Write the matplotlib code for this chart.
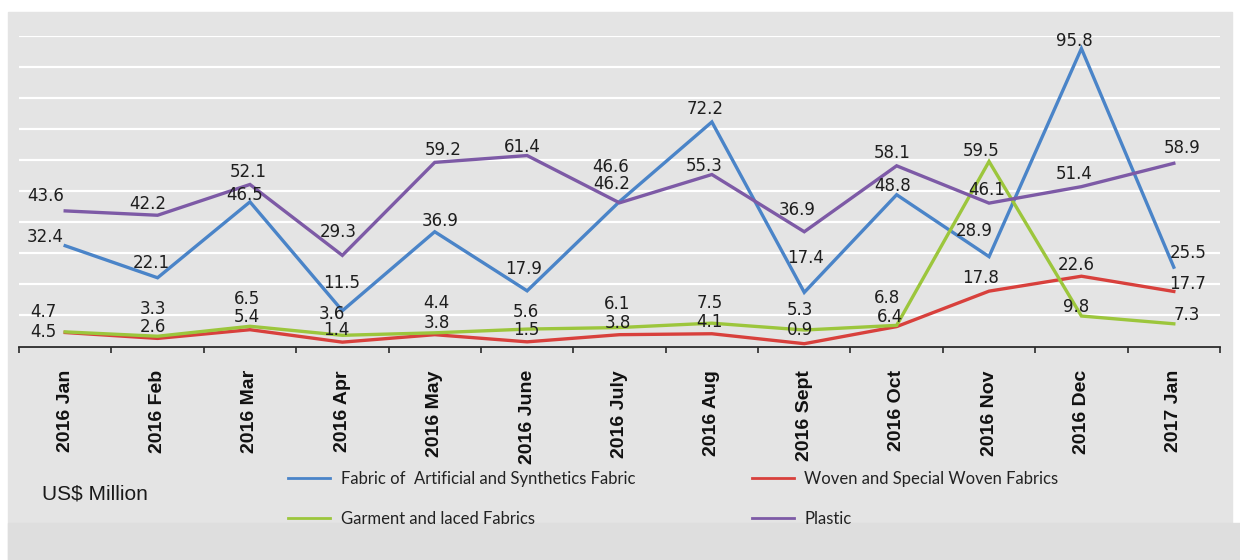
import matplotlib.pyplot as plt
from matplotlib.patches import Rectangle

# monthly imports, US$ million
months = ["2016 Jan", "2016 Feb", "2016 Mar", "2016 Apr", "2016 May", "2016 June",
          "2016 July", "2016 Aug", "2016 Sept", "2016 Oct", "2016 Nov", "2016 Dec", "2017 Jan"]
artificial = [32.4, 22.1, 46.5, 11.5, 36.9, 17.9, 46.6, 72.2, 17.4, 48.8, 28.9, 95.8, 25.5]
woven = [4.5, 2.6, 5.4, 1.4, 3.8, 1.5, 3.8, 4.1, 0.9, 6.4, 17.8, 22.6, 17.7]
garment = [4.7, 3.3, 6.5, 3.6, 4.4, 5.6, 6.1, 7.5, 5.3, 6.8, 59.5, 9.8, 7.3]
plastic = [43.6, 42.2, 52.1, 29.3, 59.2, 61.4, 46.2, 55.3, 36.9, 58.1, 46.1, 51.4, 58.9]

names = ["Fabric of  Artificial and Synthetics Fabric", "Woven and Special Woven Fabrics",
         "Garment and laced Fabrics", "Plastic"]
colors = ["#4a84c8", "#d8403c", "#9cc63c", "#7d5aa6"]

# where each value label sits relative to its point (pixels, x right / y up)
lab_art = [(-20, 9), (-6, 15), (-5, 7), (-1, 28), (5, 11), (-4, 22), (-9, 35),
           (-7, 13), (1, 34), (-4, 9), (-15, 26), (-7, 8), (14, 14)]
lab_wov = [(-22, 1), (-5, 11), (-3, 13), (-6, 12), (2, 12), (-1, 12), (-2, 12),
           (-2, 12), (-4, 14), (-7, 10), (-8, 13), (-5, 11), (14, 7)]
lab_gar = [(-22, 20), (-5, 27), (-3, 27), (-10, 21), (2, 30), (-1, 17), (-2, 24),
           (-2, 20), (-4, 20), (-10, 27), (-8, 10), (-5, 9), (13, 9)]
lab_pla = [(-20, 15), (-10, 11), (-2, 12), (-4, 23), (8, 12), (-5, 9), (-8, 19),
           (-8, 9), (-7, 22), (-4, 13), (-2, 13), (-7, 13), (8, 15)]

W, H = 1240, 560
fig = plt.figure(figsize=(W / 100, H / 100), dpi=100, facecolor="white")

# panel background
fig.patches.append(Rectangle((8 / W, 0), (1232 - 8) / W, (H - 12) / H,
                             transform=fig.transFigure, color="#e4e4e4", zorder=-10))
fig.patches.append(Rectangle((8 / W, 0), (W - 8) / W, (H - 523) / H,
                             transform=fig.transFigure, color="#dedede", zorder=-9))

ax = fig.add_axes([19 / W, (H - 346.5) / H, (1220 - 19) / W, (346.5 - 35.5) / H])
ax.set_facecolor("none")

x = list(range(len(months)))
series = [artificial, woven, garment, plastic]
offsets = [lab_art, lab_wov, lab_gar, lab_pla]
lines = []
for vals, c, nm in zip(series, colors, names):
    ln, = ax.plot(x, vals, color=c, lw=2.4, label=nm, solid_joinstyle="miter", zorder=3)
    lines.append(ln)

for vals, offs in zip(series, offsets):
    for xi, v, (dx, dy) in zip(x, vals, offs):
        ax.annotate(f"{v:.1f}", (xi, v), xytext=(dx, dy), textcoords="offset pixels",
                    ha="center", va="center", fontsize=12, color="#1e1e1e",
                    family="DejaVu Sans", zorder=5, annotation_clip=False)

ax.set_xlim(-0.5, len(months) - 0.5)
ax.set_ylim(0, 100)
ax.set_yticks(range(0, 101, 10))
ax.yaxis.grid(True, color="white", lw=1.6)
ax.set_axisbelow(True)
ax.tick_params(axis="y", length=0, labelleft=False)

for s in ["left", "right", "top"]:
    ax.spines[s].set_visible(False)
ax.spines["bottom"].set_color("#2a2a2a")
ax.spines["bottom"].set_linewidth(1.3)

ax.set_xticks(x)
ax.set_xticklabels(months, rotation=90, fontsize=14, fontweight="bold",
                   family="Liberation Sans", color="#111111")
ax.tick_params(axis="x", which="major", length=0, pad=17)
ax.set_xticks([i - 0.5 for i in range(len(months) + 1)], minor=True)
ax.tick_params(axis="x", which="minor", length=4, width=1.2, color="#2a2a2a", direction="out")

fig.text(42 / W, (H - 494) / H, "US$ Million", fontsize=15, family="Liberation Sans",
         color="#1a1a1a", va="center", ha="left")

# legend: two columns, blue/red on top row, green/purple below
leg = fig.legend([lines[0], lines[2], lines[1], lines[3]],
                 [names[0], names[2], names[1], names[3]],
                 ncol=2, loc="upper left", bbox_to_anchor=(288 / W, (H - 471) / H),
                 bbox_transform=fig.transFigure, frameon=False, borderpad=0,
                 borderaxespad=0, handlelength=2.5, handletextpad=0.66,
                 columnspacing=7.0, labelspacing=1.42,
                 prop={"family": "Lato", "size": 12})
for h in leg.legend_handles:
    h.set_linewidth(2.0)
for t in leg.get_texts():
    t.set_color("#222222")

fig.savefig("out.png", dpi=100, facecolor=fig.get_facecolor())
